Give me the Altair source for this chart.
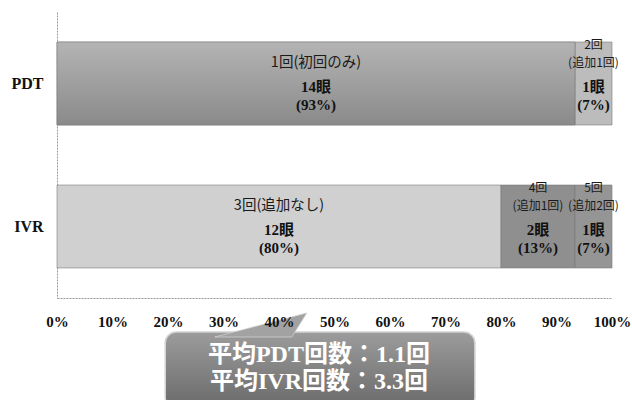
import altair as alt
import pandas as pd

# ---- data ----
groups = ["PDT", "PDT", "IVR", "IVR", "IVR"]
segments = ["PDT1", "PDT2", "IVR3", "IVR4", "IVR5"]
name_top = ["", "2回", "", "4回", "5回"]
name_main = ["1回(初回のみ)", "(追加1回)", "3回(追加なし)", "(追加1回)", "(追加2回)"]
eyes = [14, 1, 12, 2, 1]
pcts = [93, 7, 80, 13, 7]
totals = [15, 15, 15, 15, 15]
seg_colors = ["#9c9c9c", "#bcbcbc", "#d0d0d0", "#8f8f8f", "#959595"]

callout_lines = ["平均PDT回数：1.1回", "平均IVR回数：3.3回"]
callout_x = [0.195, 0.753]       # box extent in axis units
callout_text_x = [0.472]
pointer_x = [0.369]

df = pd.DataFrame({"group": groups, "segment": segments, "top": name_top,
                   "main": name_main, "eyes": eyes, "pct": pcts, "total": totals})
df["frac"] = df["eyes"] / df["total"]
df["end"] = df.groupby("group")["frac"].cumsum()
df["start"] = df["end"] - df["frac"]
df["mid"] = (df["start"] + df["end"]) / 2
df["countlabel"] = df["eyes"].astype(str) + "眼\n(" + df["pct"].astype(str) + "%)"

serif = "'Liberation Serif', 'Noto Sans CJK JP'"
cjk = "'Noto Sans CJK JP'"

xscale = alt.Scale(domain=[0, 1])
yenc = alt.Y("group:N", sort=["PDT", "IVR"], title=None,
             scale=alt.Scale(paddingInner=0.42, paddingOuter=0.21),
             axis=alt.Axis(labelFont=serif, labelFontWeight="bold", labelFontSize=16,
                           labelColor="#111", labelPadding=14, ticks=False, tickSize=0,
                           domainColor="#9a9a9a", domainDash=[2, 1]))
xaxis = alt.Axis(values=[i / 10 for i in range(11)], format=".0%", labelFont=serif,
                 labelFontWeight="bold", labelFontSize=15, labelColor="#111",
                 labelPadding=16, ticks=False, tickSize=0, grid=False, zindex=1,
                 domainColor="#9a9a9a", domainDash=[2, 1], title=None, labelFlush=False)

base = alt.Chart(df)

bars = base.mark_bar(stroke="#7a7a7a", strokeWidth=0.6).encode(
    x=alt.X("start:Q", scale=xscale, axis=xaxis),
    x2="end:Q",
    y=yenc,
    color=alt.Color("segment:N", scale=alt.Scale(domain=segments, range=seg_colors), legend=None),
)

grad = alt.Gradient(gradient="linear", x1=0, y1=0, x2=0, y2=1,
                    stops=[alt.GradientStop(color="#b4b4b4", offset=0),
                           alt.GradientStop(color="#8a8a8a", offset=1)])
pdt_main = base.transform_filter(alt.datum.segment == "PDT1").mark_bar(
    fill=grad, stroke="#7a7a7a", strokeWidth=0.6).encode(
    x=alt.X("start:Q", scale=xscale, axis=xaxis), x2="end:Q", y=yenc)

size_cond = alt.condition(alt.datum.frac < 0.2, alt.value(12), alt.value(14.5))

main_text = base.mark_text(font=cjk, color="#1a1a1a", baseline="middle", dy=-21).encode(
    x=alt.X("mid:Q", scale=xscale), y=yenc, text="main:N", size=size_cond)

top_text = base.mark_text(font=cjk, color="#1a1a1a", baseline="middle", dy=-39).encode(
    x=alt.X("mid:Q", scale=xscale), y=yenc, text="top:N", size=size_cond)

count_text = base.mark_text(font=serif, fontSize=15, fontWeight="bold", color="#111",
                            baseline="middle", dy=3, lineBreak="\n", lineHeight=18).encode(
    x=alt.X("mid:Q", scale=xscale), y=yenc, text="countlabel:N")

# ---- callout ----
box_df = pd.DataFrame({"x": [callout_x[0]], "x2": [callout_x[1]]})
box_grad = alt.Gradient(gradient="linear", x1=0, y1=0, x2=0, y2=1,
                        stops=[alt.GradientStop(color="#9c9c9c", offset=0),
                               alt.GradientStop(color="#6a6a6a", offset=1)])
box = alt.Chart(box_df).mark_rect(fill=box_grad, cornerRadius=11, stroke="#d4d4d4",
                                  strokeWidth=1.5).encode(
    x=alt.X("x:Q", scale=xscale), x2="x2:Q", y=alt.value(320), y2=alt.value(396))

ptr_df = pd.DataFrame({"x": pointer_x})
pointer = alt.Chart(ptr_df).mark_point(
    shape="M0.9,-0.22L-0.94,0.26L0.6,0.26Z", filled=True, fill="#a2a2a2",
    opacity=1, size=10000, stroke="#cfcfcf", strokeWidth=0.8).encode(
    x=alt.X("x:Q", scale=xscale), y=alt.value(312))

txt_df = pd.DataFrame({"x": callout_text_x, "t": ["\n".join(callout_lines)]})
callout_text = alt.Chart(txt_df).mark_text(
    font=serif, fontSize=24, fontWeight="bold", color="white", baseline="middle",
    lineBreak="\n", lineHeight=27).encode(
    x=alt.X("x:Q", scale=xscale), y=alt.value(343), text="t:N")

chart = alt.layer(bars, pdt_main, main_text, top_text, count_text, box, pointer,
                  callout_text).properties(
    width=555, height=286,
    autosize=alt.AutoSizeParams(type="none"),
    padding={"left": 57, "top": 12, "right": 20, "bottom": 102},
    background="white",
).configure_view(stroke=None)

chart.save("out.html", embed_options={"renderer": "svg", "actions": False})
